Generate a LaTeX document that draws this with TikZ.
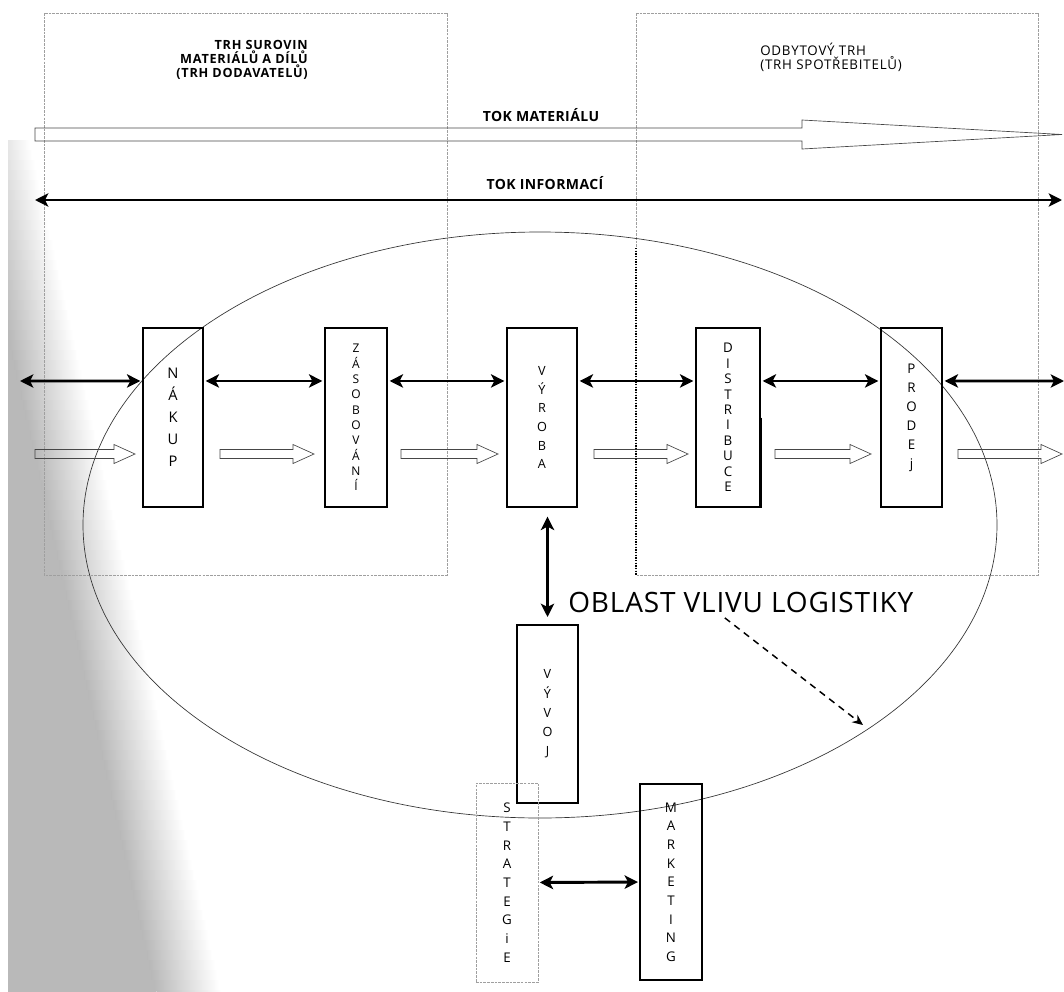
\documentclass[tikz,border=0pt]{standalone}
\usepackage{fontspec}
\setmainfont{Open Sans}
\newfontfamily\hdrfont[LetterSpace=6]{Open Sans}
\newfontfamily\tokfont[LetterSpace=3]{Open Sans}
\newfontfamily\oblfont[LetterSpace=3]{Open Sans}
\usetikzlibrary{arrows.meta}
\newcommand\hollowarr[3]{\draw[hollow] (#1,#3-4.5) -- (#2-21,#3-4.5) -- (#2-21,#3-9.5) -- (#2,#3) -- (#2-21,#3+9.5) -- (#2-21,#3+4.5) -- (#1,#3+4.5) -- cycle;}
\begin{document}
\begin{tikzpicture}[x=0.75pt,y=-0.75pt,
  procbox/.style={draw=black, line width=1pt, inner sep=0pt, align=center},
  mkt/.style={draw=gray!75, line width=0.6pt, dash pattern=on 2pt off 0.8pt},
  dbl/.style={line width=2.2pt, {Stealth[length=10pt,width=10pt,inset=2.5pt]}-{Stealth[length=10pt,width=10pt,inset=2.5pt]}},
  hollow/.style={draw=gray!55!black, line width=0.5pt},
  lab/.style={font=\hdrfont\fontsize{9.5}{9}\selectfont\bfseries, inner sep=0pt},
  labr/.style={font=\hdrfont\fontsize{10}{9}\selectfont, inner sep=0pt},
  toklab/.style={font=\tokfont\fontsize{10.5}{10}\selectfont\bfseries, inner sep=0pt},
  dsh/.style={line width=1.1pt, dash pattern=on 5pt off 4pt, -{Stealth[length=8pt,width=7pt]}},
 ]
\useasboundingbox (0,0) rectangle (1064,992);

% stippled grey shading on the left
\begin{scope}
\clip (8,140) rectangle (1064,992);
\foreach \yy in {140,150,...,990} {
  \pgfmathsetmacro\ee{65+0.225*(\yy+5-300)}
  \pgfmathsetmacro\dd{\ee-65}
  \fill[gray!55] (0,\yy) rectangle (\dd,\yy+10.6);
  \shade[left color=gray!55, right color=white] (\dd,\yy) rectangle (\ee,\yy+10.6);
}
\end{scope}

% market areas
\draw[mkt] (44,13) rectangle (447,575);
\draw[mkt] (636,13) -- (1038,13) -- (1038,575) -- (636,575);
\draw[mkt] (636,13) -- (636,248);
\draw[line width=1pt, dash pattern=on 1pt off 1pt] (636,248) -- (636,575);

% region of logistics
\draw[gray!40!black, line width=0.5pt] (540,525) ellipse [x radius=457, y radius=293];

% labels
\node[lab, anchor=east, align=right] (supmkt) at (308,60) {TRH SUROVIN\\MATERIÁLŮ A DÍLŮ\\(TRH DODAVATELŮ)};
\node[labr, anchor=west, align=left] (conmkt) at (760,57.5) {ODBYTOVÝ TRH\\(TRH SPOTŘEBITELŮ)};
\node[toklab] (tokmat) at (541,115) {TOK MATERIÁLU};
\node[toklab] (tokinf) at (545,183) {TOK INFORMACÍ};
\node[font=\oblfont\fontsize{21}{24}\selectfont, anchor=west, inner sep=0pt] (oblast) at (568,602) {OBLAST VLIVU LOGISTIKY};

% material flow
\draw[hollow] (35,128) -- (802,128) -- (802,120) -- (1062,134.5) -- (802,149) -- (802,141) -- (35,141) -- cycle;
% information flow
\coordinate (infL) at (35,200);
\coordinate (infR) at (1062,200);
\draw[dbl] (infL) -- (infR);

% process boxes
\node[procbox, minimum width=45pt, minimum height=134.25pt, font=\fontsize{11}{16.5}\selectfont] (nakup) at (173,417.5) {N\\Á\\K\\U\\P};
\node[procbox, minimum width=46.5pt, minimum height=134.25pt, font=\fontsize{9}{11.5}\selectfont] (zasob) at (356,417.5) {Z\\Á\\S\\O\\B\\O\\V\\Á\\N\\Í};
\node[procbox, minimum width=52.5pt, minimum height=134.25pt, font=\fontsize{9.5}{14}\selectfont] (vyroba) at (542,417.5) {V\\Ý\\R\\O\\B\\A};
\node[procbox, minimum width=48pt, minimum height=134.25pt, font=\fontsize{10}{11.6}\selectfont] (distr) at (728,417.5) {D\\I\\S\\T\\R\\I\\B\\U\\C\\E};
\node[procbox, minimum width=45.75pt, minimum height=134.25pt, font=\fontsize{10}{14.25}\selectfont] (prodej) at (911.5,417.5) {P\\R\\O\\D\\E\\j};
\draw[line width=1.8pt] (distr.east) -- (distr.south east);

\node[procbox, minimum width=45.75pt, minimum height=133.5pt, font=\fontsize{9.5}{14.4}\selectfont] (vyvoj) at (547.5,714) {V\\Ý\\V\\O\\J};
\node[procbox, draw=gray!75, line width=0.6pt, dash pattern=on 2pt off 0.8pt, minimum width=46.5pt, minimum height=149.25pt, font=\fontsize{10}{14}\selectfont] (strat) at (507,882.5) {S\\T\\R\\A\\T\\E\\G\\i\\E};
\node[procbox, minimum width=46.5pt, minimum height=147pt, font=\fontsize{10}{14}\selectfont] (market) at (671,882) {M\\A\\R\\K\\E\\T\\I\\N\\G};

% information arrows between processes
\coordinate (extL) at (20,381);
\coordinate (extR) at (1064,381);
\draw[dbl, shorten >=1.5pt] (extL) -- ([yshift=27.4pt]nakup.west);
\draw[dbl, shorten <=1.5pt, shorten >=1.5pt] ([yshift=27.4pt]nakup.east) -- ([yshift=27.4pt]zasob.west);
\draw[dbl, shorten <=1.5pt, shorten >=1.5pt] ([yshift=27.4pt]zasob.east) -- ([yshift=27.4pt]vyroba.west);
\draw[dbl, shorten <=1.5pt, shorten >=1.5pt] ([yshift=27.4pt]vyroba.east) -- ([yshift=27.4pt]distr.west);
\draw[dbl, shorten <=1.5pt, shorten >=1.5pt] ([yshift=27.4pt]distr.east) -- ([yshift=27.4pt]prodej.west);
\draw[dbl, shorten <=1.5pt] ([yshift=27.4pt]prodej.east) -- (extR);
\draw[dbl, shorten <=6.75pt, shorten >=5.5pt] (vyroba.south -| vyvoj.north) -- (vyvoj.north);
\draw[dbl, shorten <=1pt, shorten >=1pt] (strat.east) -- (market.west);

% material arrows
\hollowarr{35}{135}{454}
\hollowarr{220}{314}{454}
\hollowarr{401}{498}{454}
\hollowarr{594}{688}{454}
\hollowarr{775}{871}{454}
\hollowarr{958}{1062}{454}

% pointer to the ellipse
\coordinate (ellpt) at (863,725);
\draw[dsh] ([xshift=-12pt,yshift=-4pt]oblast.south) -- (ellpt);
\end{tikzpicture}
\end{document}
